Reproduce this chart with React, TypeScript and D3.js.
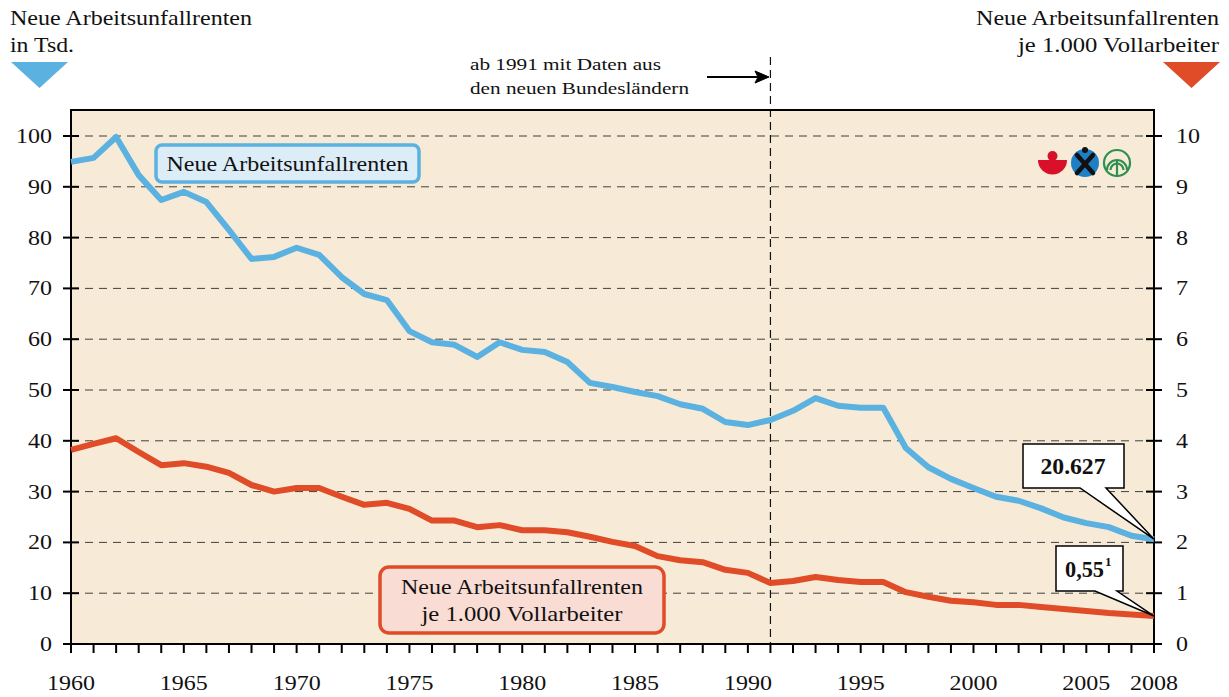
import React from "react";
import * as d3 from "d3";

const years: number[] = d3.range(1960, 2009);
const renten: number[] = [
  94.9, 95.7, 99.8, 92.3, 87.4, 89.0, 87.0, 81.5, 75.8, 76.2,
  78.0, 76.6, 72.2, 68.9, 67.7, 61.6, 59.4, 58.9, 56.5, 59.4,
  57.9, 57.5, 55.5, 51.4, 50.6, 49.6, 48.8, 47.2, 46.3, 43.7,
  43.1, 44.1, 45.9, 48.4, 46.9, 46.5, 46.5, 38.6, 34.8, 32.5,
  30.7, 29.0, 28.2, 26.7, 24.9, 23.8, 23.0, 21.3, 20.627,
];
const quote: number[] = [
  3.82, 3.94, 4.05, 3.78, 3.52, 3.56, 3.49, 3.37, 3.13, 3.0,
  3.07, 3.07, 2.9, 2.74, 2.78, 2.66, 2.43, 2.43, 2.3, 2.34,
  2.24, 2.24, 2.2, 2.11, 2.01, 1.93, 1.73, 1.65, 1.61, 1.46,
  1.4, 1.2, 1.24, 1.32, 1.26, 1.22, 1.22, 1.02, 0.93, 0.85,
  0.82, 0.77, 0.77, 0.73, 0.69, 0.65, 0.61, 0.58, 0.55,
];
const leftTicks: number[] = [0, 10, 20, 30, 40, 50, 60, 70, 80, 90, 100];
const rightTicks: number[] = [0, 1, 2, 3, 4, 5, 6, 7, 8, 9, 10];
const xLabels: number[] = [1960, 1965, 1970, 1975, 1980, 1985, 1990, 1995, 2000, 2005, 2008];

const BLUE = "#5bb1e0";
const RED = "#e04b28";
const FONT = "Liberation Serif, DejaVu Serif, serif";

type TxtProps = {
  x: number; y: number; size: number; len?: number;
  anchor?: "start" | "middle" | "end"; bold?: boolean; children: React.ReactNode;
};
function Txt({ x, y, size, len, anchor = "start", bold = false, children }: TxtProps) {
  return (
    <text
      x={x}
      y={y}
      fontSize={size}
      textAnchor={anchor}
      fontWeight={bold ? "bold" : "normal"}
      fill="#111"
      textLength={len}
      lengthAdjust={len ? "spacingAndGlyphs" : undefined}
    >
      {children}
    </text>
  );
}

const digitW = 12;

export default function App() {
  const W = 1229, H = 697;
  const L = 71, R = 1154, T = 110, B = 644;
  const x = d3.scaleLinear().domain([1960, 2008]).range([L, R]);
  const yL = d3.scaleLinear().domain([0, 100]).range([B, 136]);
  const yR = d3.scaleLinear().domain([0, 10]).range([B, 136]);

  const lineBlue = d3.line<number>().x((_, i) => x(years[i])).y((d) => yL(d));
  const lineRed = d3.line<number>().x((_, i) => x(years[i])).y((d) => yR(d));

  const x1991 = x(1991);
  const endX = x(2008);
  const endBlue = yL(renten[renten.length - 1]);
  const endRed = yR(quote[quote.length - 1]);

  return (
    <svg width={W} height={H} style={{ position: "absolute", left: 0, top: 0, background: "#fff", fontFamily: FONT }}>
      <rect x={L} y={T} width={R - L} height={B - T} fill="#f7ebd7" />

      {leftTicks.filter((t) => t > 0).map((t) => (
        <line key={"g" + t} x1={L} x2={R} y1={yL(t)} y2={yL(t)} stroke="#222" strokeWidth={1} strokeDasharray="8,6" opacity={0.85} />
      ))}

      <line x1={x1991} x2={x1991} y1={57} y2={B} stroke="#111" strokeWidth={1.2} strokeDasharray="8,5" />

      <rect x={L} y={T} width={R - L} height={B - T} fill="none" stroke="#000" strokeWidth={2} />

      {leftTicks.map((t) => (
        <g key={"l" + t}>
          <line x1={L - 8} x2={L + 8} y1={yL(t)} y2={yL(t)} stroke="#000" strokeWidth={2} />
          <Txt x={L - 19} y={yL(t) + 7} size={20} anchor="end" len={String(t).length * digitW}>{t}</Txt>
        </g>
      ))}
      {rightTicks.map((t) => (
        <g key={"r" + t}>
          <line x1={R - 8} x2={R + 8} y1={yR(t)} y2={yR(t)} stroke="#000" strokeWidth={2} />
          <Txt x={R + 22} y={yR(t) + 7} size={20} len={String(t).length * digitW}>{t}</Txt>
        </g>
      ))}
      {years.map((yr) => (
        <line key={"x" + yr} x1={x(yr)} x2={x(yr)} y1={B} y2={B + 9} stroke="#000" strokeWidth={2} />
      ))}
      {xLabels.map((yr) => (
        <Txt key={"xl" + yr} x={x(yr)} y={690} size={20} anchor="middle" len={48}>{yr}</Txt>
      ))}

      <path d={lineBlue(renten) || ""} fill="none" stroke={BLUE} strokeWidth={6} strokeLinejoin="round" />
      <path d={lineRed(quote) || ""} fill="none" stroke={RED} strokeWidth={6} strokeLinejoin="round" />

      <rect x={156} y={145} width={263} height={37} rx={6} fill="#dcedf8" stroke={BLUE} strokeWidth={3.5} />
      <Txt x={287.5} y={171} size={22} anchor="middle" len={242}>Neue Arbeitsunfallrenten</Txt>

      <rect x={380} y={567} width={284} height={66} rx={9} fill="#f9ddd4" stroke={RED} strokeWidth={3.5} />
      <Txt x={522} y={594} size={21} anchor="middle" len={242}>Neue Arbeitsunfallrenten</Txt>
      <Txt x={522} y={621} size={21} anchor="middle" len={201}>je 1.000 Vollarbeiter</Txt>

      <path d={`M1023,444 H1124 V488 H1106 L${endX},${endBlue} L1080,488 H1023 Z`} fill="#fff" stroke="#000" strokeWidth={1.5} />
      <Txt x={1073} y={474} size={24} anchor="middle" bold len={65}>20.627</Txt>

      <path d={`M1056,546 H1123 V591 H1117 L${endX},${endRed} L1095,591 H1056 Z`} fill="#fff" stroke="#000" strokeWidth={1.5} />
      <text x={1065} y={577} fontSize={24} fontWeight="bold" fill="#111">
        <tspan textLength={39} lengthAdjust="spacingAndGlyphs">0,55</tspan>
        <tspan fontSize={13} dx={1} dy={-11}>1</tspan>
      </text>

      <Txt x={470} y={70} size={17} len={191}>ab 1991 mit Daten aus</Txt>
      <Txt x={470} y={94} size={17} len={219}>den neuen Bundesländern</Txt>
      <line x1={707} x2={760} y1={77} y2={77} stroke="#000" strokeWidth={2} />
      <path d="M769,77 L755,71 L758,77 L755,83 Z" fill="#000" stroke="#000" strokeWidth={1} />

      <Txt x={10} y={25} size={21} len={242}>Neue Arbeitsunfallrenten</Txt>
      <Txt x={10} y={52} size={21} len={64}>in Tsd.</Txt>
      <path d="M11,62 L68,62 L39.5,88 Z" fill={BLUE} />

      <Txt x={1219} y={25} size={21} anchor="end" len={243}>Neue Arbeitsunfallrenten</Txt>
      <Txt x={1219} y={52} size={21} anchor="end" len={201}>je 1.000 Vollarbeiter</Txt>
      <path d="M1163,62 L1220,62 L1191.5,88 Z" fill={RED} />

      <g>
        <path d="M1038,160 A14.5,14.5 0 0 0 1067,160 Z" fill="#d8102a" />
        <circle cx={1052.5} cy={156} r={5} fill="#d8102a" />
      </g>
      <g>
        <circle cx={1085} cy={163} r={14} fill="#1e7fc4" />
        <path d="M1077,155 L1093,173 M1093,155 L1077,173" stroke="#111" strokeWidth={4.5} strokeLinecap="round" />
        <circle cx={1085} cy={150} r={3} fill="#111" />
      </g>
      <g fill="none" stroke="#2f8f4e" strokeWidth={2.2}>
        <circle cx={1117} cy={163} r={13} />
        <path d="M1107,170 A10,10 0 1 1 1127,170" />
        <path d="M1110.5,170 A6.5,6.5 0 1 1 1123.5,170" />
        <line x1={1117} x2={1117} y1={160} y2={177} />
      </g>
    </svg>
  );
}
